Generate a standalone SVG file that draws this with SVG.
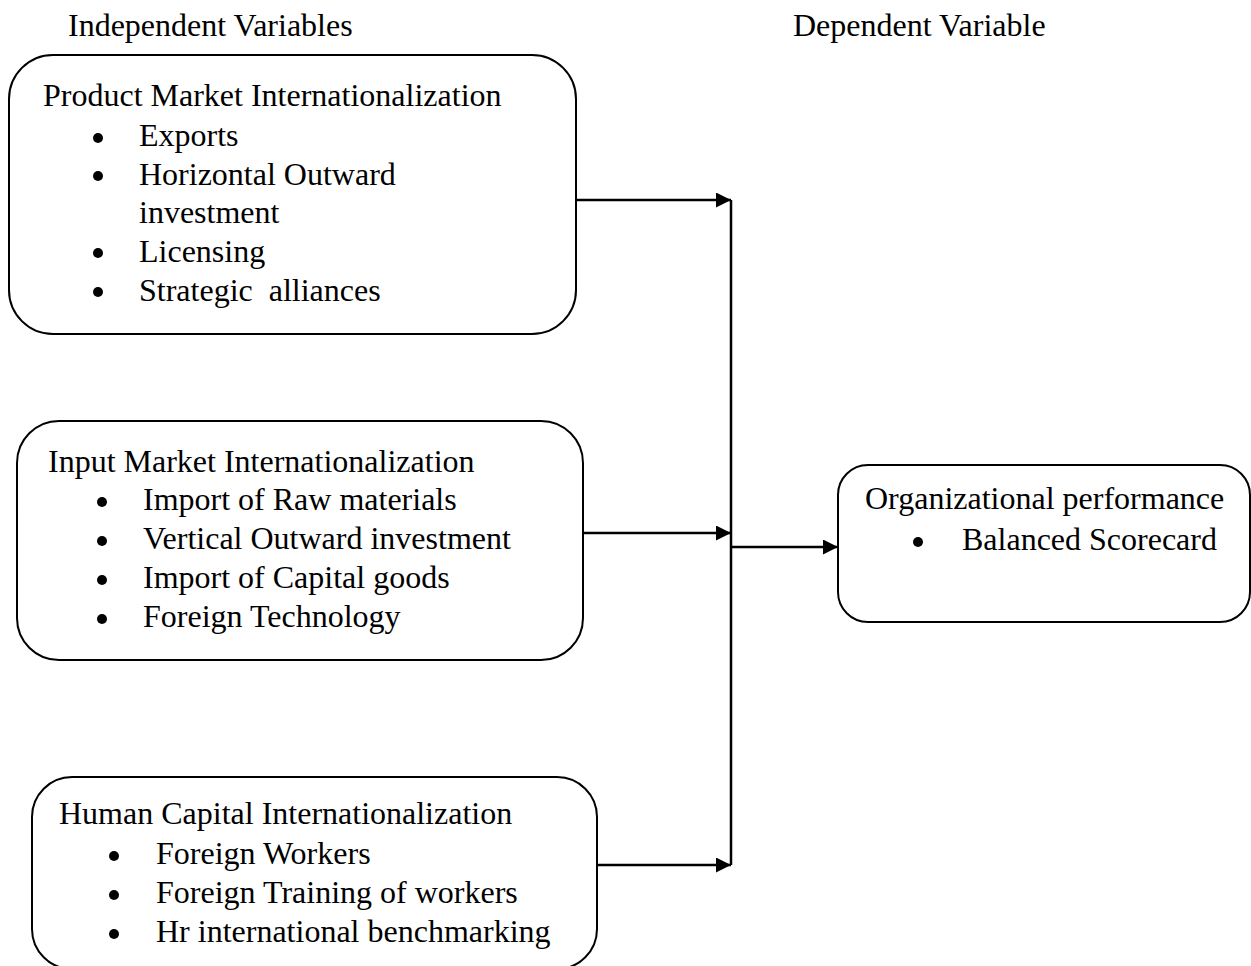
<svg xmlns="http://www.w3.org/2000/svg" width="1251" height="966" viewBox="0 0 1251 966">
<defs>
<style>
.box{fill:#fff;stroke:#000;stroke-width:2}
text{font-family:"Liberation Serif","Times New Roman",serif;font-size:32px;fill:#000}
.bul{fill:#000}
.conn{stroke:#000;stroke-width:2.5;fill:none}
</style>
<marker id="arr" viewBox="0 0 15 15" refX="15" refY="7.5" markerWidth="15" markerHeight="15" markerUnits="userSpaceOnUse" orient="auto">
<path d="M0,0 L15,7.5 L0,15 Z" fill="#000"/>
</marker>
</defs>
<rect width="1251" height="966" fill="#fff"/>
<g id="headers">
<text x="68" y="36">Independent Variables</text>
<text x="793" y="36">Dependent Variable</text>
</g>
<g id="product">
<rect class="box" x="9" y="55" width="567" height="279" rx="44" ry="44"/>
<text x="43" y="106">Product Market Internationalization</text>
<circle class="bul" cx="98" cy="138" r="5"/><text x="139" y="146">Exports</text>
<circle class="bul" cx="98" cy="176" r="5"/><text x="139" y="185">Horizontal Outward</text>
<text x="139" y="223">investment</text>
<circle class="bul" cx="98" cy="253" r="5"/><text x="139" y="262">Licensing</text>
<circle class="bul" cx="98" cy="292" r="5"/><text x="139" y="301" xml:space="preserve">Strategic  alliances</text>
</g>
<g id="input">
<rect class="box" x="17" y="421" width="566" height="239" rx="42" ry="42"/>
<text x="48" y="472">Input Market Internationalization</text>
<circle class="bul" cx="102" cy="502" r="5"/><text x="143" y="510">Import of Raw materials</text>
<circle class="bul" cx="102" cy="541" r="5"/><text x="143" y="549">Vertical Outward investment</text>
<circle class="bul" cx="102" cy="580" r="5"/><text x="143" y="588">Import of Capital goods</text>
<circle class="bul" cx="102" cy="619" r="5"/><text x="143" y="627">Foreign Technology</text>
</g>
<g id="human">
<rect class="box" x="32" y="777" width="565" height="192" rx="40" ry="40"/>
<text x="59" y="824">Human Capital Internationalization</text>
<circle class="bul" cx="114" cy="856" r="5"/><text x="156" y="864">Foreign Workers</text>
<circle class="bul" cx="114" cy="895" r="5"/><text x="156" y="903">Foreign Training of workers</text>
<circle class="bul" cx="114" cy="934" r="5"/><text x="156" y="942">Hr international benchmarking</text>
</g>
<g id="performance">
<rect class="box" x="838" y="465" width="412" height="157" rx="30" ry="30"/>
<text x="865" y="509">Organizational performance</text>
<circle class="bul" cx="918" cy="542" r="5"/><text x="962" y="550">Balanced Scorecard</text>
</g>
<g id="connectors">
<line class="conn" x1="731" y1="200" x2="731" y2="865"/>
<line class="conn" x1="576" y1="200" x2="731" y2="200" marker-end="url(#arr)"/>
<line class="conn" x1="583" y1="533" x2="731" y2="533" marker-end="url(#arr)"/>
<line class="conn" x1="597" y1="865" x2="731" y2="865" marker-end="url(#arr)"/>
<line class="conn" x1="731" y1="547" x2="838" y2="547" marker-end="url(#arr)"/>
</g>
</svg>
